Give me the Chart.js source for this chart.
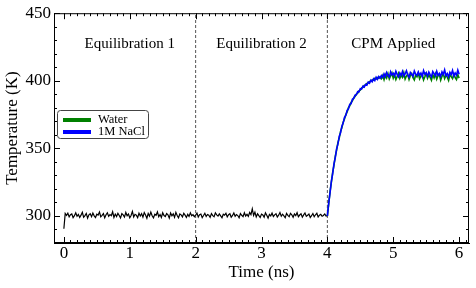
<!DOCTYPE html>
<html>
<head>
<meta charset="utf-8">
<script src="https://cdn.jsdelivr.net/npm/chart.js@4.4.1/dist/chart.umd.min.js"></script>
<style>
    html, body { margin: 0; padding: 0; background: #fff; }
    #wrap { width: 476px; height: 288px; }
</style>
</head>
<body>
<div id="wrap"><canvas id="tempChart"></canvas></div>
<script>
// --------------------
// Data
// --------------------
const dt = 0.02;              // sampling step, ns
const eqStart = 0;            // black trace starts at 0 ns
const cpmStart = 4;           // CPM traces start at 4 ns

const xTicks = [0, 1, 2, 3, 4, 5, 6];
const yTicks = [300, 350, 400, 450];
const phaseLines = [2, 4];
const phaseLabels = ['Equilibration 1', 'Equilibration 2', 'CPM Applied'];
const phaseLabelX = [1, 3, 5];

// Equilibration, 0 - 4 ns
const equilTemp = [
    290.5, 301.8, 300.4, 302.1, 299.3, 300.9, 301.5, 298.7, 300.2, 302.4, 299.8, 301.1, 298.9, 300.6, 302.7, 299.1, 300.3, 301.9, 298.4, 300.8,
    301.6, 299.5, 302.2, 300.1, 298.8, 301.3, 300.7, 302.9, 299.4, 300.5, 301.8, 298.6, 300.9, 302.3, 299.7, 301.0, 300.2, 303.1, 298.9, 301.4,
    299.6, 302.0, 300.3, 298.5, 301.7, 300.8, 299.2, 302.6, 300.1, 301.5, 298.7, 300.4, 303.4, 299.3, 301.2, 300.6, 298.8, 302.1, 300.0, 301.7,
    299.1, 302.5, 300.7, 298.3, 301.9, 299.8, 302.8, 300.2, 298.6, 301.3, 300.5, 303.0, 299.4, 301.1, 298.9, 302.4, 300.3, 299.6, 301.8, 300.9,
    298.4, 302.2, 300.1, 301.6, 299.0, 302.7, 300.4, 298.7, 301.5, 300.8, 299.3, 302.0, 300.6, 298.9, 301.2, 299.7, 302.3, 300.2, 301.0, 299.5,
    300.7, 302.1, 299.2, 300.9, 301.4, 298.8, 300.3, 302.0, 299.6, 301.1, 300.5, 298.9, 301.7, 300.2, 299.4, 302.3, 300.8, 299.9, 301.5, 300.1,
    298.7, 301.3, 300.6, 302.0, 299.3, 300.9, 301.6, 299.0, 300.4, 302.2, 299.8, 301.0, 300.3, 298.6, 301.8, 300.5, 299.5, 302.4, 300.0, 301.2,
    299.7, 302.6, 301.0, 305.2, 300.4, 302.8, 299.3, 301.6, 300.2, 298.9, 301.4, 300.7, 299.1, 302.3, 300.5, 298.4, 301.2, 300.0, 302.1, 299.6,
    300.8, 301.7, 299.2, 300.6, 302.5, 299.8, 301.3, 300.1, 298.7, 301.9, 300.4, 299.5, 302.0, 300.9, 299.0, 301.5, 300.3, 302.4, 299.4, 300.7,
    301.6, 299.1, 300.8, 302.2, 299.7, 300.5, 301.4, 298.9, 300.2, 301.8, 299.5, 300.9, 302.0, 299.3, 300.6, 301.2, 299.8, 300.4, 301.5, 299.9,
    300.2
];

// CPM applied, 4 - 6 ns : water
const waterTemp = [
    300.0, 308.8, 317.6, 324.7, 332.1, 337.5, 344.0, 348.7, 354.2, 357.6, 362.5, 365.2, 369.4, 371.8, 375.0, 377.0, 380.1, 381.5, 384.0, 385.2,
    387.4, 388.3, 390.2, 390.8, 392.6, 393.1, 394.7, 395.2, 396.5, 396.9, 398.0, 398.3, 399.4, 399.6, 400.7, 400.5, 401.8, 401.3, 402.4, 401.9,
    402.8,
    401.6, 403.9, 400.8, 404.5, 402.2, 405.3, 401.4, 403.7, 405.8, 402.0,
    404.4, 400.9, 403.2, 405.6, 401.8, 404.1, 402.6, 406.0, 401.2, 403.5,
    404.8, 401.0, 403.9, 405.4, 402.3, 400.6, 404.2, 402.9, 405.7, 401.5,
    403.6, 404.9, 400.7, 403.0, 405.5, 401.9, 404.3, 402.5, 400.4, 404.7,
    402.1, 405.1, 401.3, 403.8, 404.6, 400.5, 403.3, 405.2, 401.7, 404.0,
    402.7, 400.3, 404.5, 403.1, 401.6, 405.0, 402.4, 400.9, 404.4, 402.0
];

// CPM applied, 4 - 6 ns : 1M NaCl
const naclTemp = [
    300.0, 309.5, 317.0, 325.4, 331.2, 338.6, 343.2, 349.6, 353.1, 358.8, 361.6, 366.4, 368.7, 372.9, 374.3, 378.1, 379.2, 382.6, 383.1, 386.3,
    387.0, 389.4, 389.6, 392.0, 391.8, 394.2, 393.9, 396.0, 395.4, 397.3, 396.8, 399.1, 398.2, 400.4, 399.3, 401.5, 400.2, 402.6, 401.1, 403.2,
    401.9,
    403.8, 402.4, 405.1, 403.0, 406.2, 404.1, 402.8, 406.7, 404.3, 405.6,
    403.5, 407.0, 404.6, 402.9, 405.8, 404.0, 406.9, 403.6, 405.2, 407.4,
    404.4, 402.7, 406.1, 404.9, 403.3, 407.2, 405.0, 403.9, 406.5, 404.2,
    405.7, 403.1, 407.5, 404.8, 405.9, 403.4, 406.4, 404.5, 402.9, 406.8,
    405.3, 403.7, 407.1, 404.0, 405.5, 403.2, 406.6, 404.7, 408.0, 403.8,
    405.4, 402.8, 406.3, 404.6, 407.6, 403.5, 405.8, 404.1, 407.9, 404.9
];

const xMin = -0.15, xMax = 6.15;
const yMin = 280, yMax = 450;

// --------------------
// Helpers
// --------------------
const serif = "'Liberation Serif', 'DejaVu Serif', serif";

function toPoints(values, start) {
    return values.map((v, i) => ({ x: +(start + i * dt).toFixed(3), y: v }));
}

function vline(x) {
    return [{ x: x, y: yMin }, { x: x, y: yMax }];
}

// --------------------
// Plugins: frame + inward ticks, phase labels, legend box
// --------------------
const framePlugin = {
    id: 'frame',
    afterDraw(chart) {
        const { ctx, chartArea: a, scales: { x, y } } = chart;
        ctx.save();
        ctx.strokeStyle = '#000';
        ctx.lineWidth = 1;
        ctx.strokeRect(a.left + 0.5, a.top + 0.5, a.right - a.left - 1, a.bottom - a.top - 1);

        ctx.beginPath();
        for (let v = 0; v <= 61; v++) {
            const t = v / 10;
            const px = Math.round(x.getPixelForValue(t)) + 0.5;
            if (px < a.left || px > a.right) continue;
            const len = v % 10 === 0 ? 6 : 3;
            ctx.moveTo(px, a.bottom); ctx.lineTo(px, a.bottom - len);
            ctx.moveTo(px, a.top); ctx.lineTo(px, a.top + len);
        }
        for (let v = yMin; v <= yMax; v += 10) {
            const py = Math.round(y.getPixelForValue(v)) + 0.5;
            const len = v % 50 === 0 ? 6 : 3;
            ctx.moveTo(a.left, py); ctx.lineTo(a.left + len, py);
            ctx.moveTo(a.right, py); ctx.lineTo(a.right - len, py);
        }
        ctx.stroke();
        ctx.restore();
    }
};

const phasePlugin = {
    id: 'phases',
    afterDatasetsDraw(chart) {
        const { ctx, scales: { x, y } } = chart;
        ctx.save();
        ctx.font = '15px ' + serif;
        ctx.fillStyle = '#000';
        ctx.textAlign = 'center';
        ctx.textBaseline = 'middle';
        phaseLabels.forEach((label, i) => {
            ctx.fillText(label, x.getPixelForValue(phaseLabelX[i]), y.getPixelForValue(427));
        });
        ctx.restore();
    }
};

const legendPlugin = {
    id: 'boxLegend',
    afterDraw(chart) {
        const { ctx, chartArea: a } = chart;
        const items = chart.data.datasets.filter(d => d.showInLegend);
        const bx = a.left + 3.5, by = 110.5, bw = 91, bh = 28;
        ctx.save();
        ctx.fillStyle = 'rgba(255,255,255,0.9)';
        ctx.strokeStyle = '#444';
        ctx.lineWidth = 1;
        ctx.beginPath();
        ctx.roundRect(bx, by, bw, bh, 3);
        ctx.fill();
        ctx.stroke();

        ctx.font = '12.5px ' + serif;
        ctx.textBaseline = 'middle';
        ctx.textAlign = 'left';
        items.forEach((d, i) => {
            const ly = 120 + i * 12;
            ctx.strokeStyle = d.borderColor;
            ctx.lineWidth = 4;
            ctx.beginPath();
            ctx.moveTo(63, ly);
            ctx.lineTo(91, ly);
            ctx.stroke();
            ctx.fillStyle = '#000';
            ctx.fillText(d.label, 98, ly);
        });
        ctx.restore();
    }
};

// --------------------
// Chart
// --------------------
const ctx = document.getElementById('tempChart').getContext('2d');

const tempChart = new Chart(ctx, {
    type: 'line',
    data: {
        datasets: [
            {
                label: 'Water',
                showInLegend: true,
                data: toPoints(waterTemp, cpmStart),
                borderColor: '#008000',
                borderWidth: 1.6,
                order: 1
            },
            {
                label: '1M NaCl',
                showInLegend: true,
                data: toPoints(naclTemp, cpmStart),
                borderColor: '#0000ff',
                borderWidth: 1.6,
                order: 0
            },
            {
                label: 'Equilibration',
                data: toPoints(equilTemp, eqStart),
                borderColor: '#000',
                borderWidth: 1.2,
                order: 2
            },
            ...phaseLines.map(px => ({
                label: 'phase ' + px,
                data: vline(px),
                borderColor: '#555',
                borderWidth: 1,
                borderDash: [3, 2],
                order: 3
            }))
        ]
    },
    options: {
        responsive: true,
        maintainAspectRatio: false,
        animation: false,
        devicePixelRatio: 1,
        layout: { padding: { left: 0, right: 7, top: 13, bottom: 0 } },
        elements: {
            point: { radius: 0 },
            line: { tension: 0 }
        },
        plugins: {
            legend: { display: false },
            tooltip: { enabled: false }
        },
        scales: {
            x: {
                type: 'linear',
                min: xMin,
                max: xMax,
                afterBuildTicks: s => { s.ticks = xTicks.map(v => ({ value: v })); },
                afterFit: s => { s.height = 45; },
                grid: { display: false, drawTicks: false },
                border: { display: true, color: '#000', width: 1 },
                ticks: {
                    color: '#000',
                    padding: 0,
                    maxRotation: 0,
                    font: { family: serif, size: 17 }
                },
                title: {
                    display: true,
                    text: 'Time (ns)',
                    color: '#000',
                    font: { family: serif, size: 17 },
                    padding: { top: 0, bottom: 5 }
                }
            },
            y: {
                type: 'linear',
                min: yMin,
                max: yMax,
                afterBuildTicks: s => { s.ticks = yTicks.map(v => ({ value: v })); },
                afterFit: s => { s.width = 54; },
                grid: { display: false, drawTicks: false },
                border: { display: true, color: '#000', width: 1 },
                ticks: {
                    color: '#000',
                    padding: 3,
                    font: { family: serif, size: 17 }
                },
                title: {
                    display: true,
                    text: 'Temperature (K)',
                    color: '#000',
                    font: { family: serif, size: 17 },
                    padding: { top: 2, bottom: 0 }
                }
            }
        }
    },
    plugins: [phasePlugin, framePlugin, legendPlugin]
});
</script>
</body>
</html>
